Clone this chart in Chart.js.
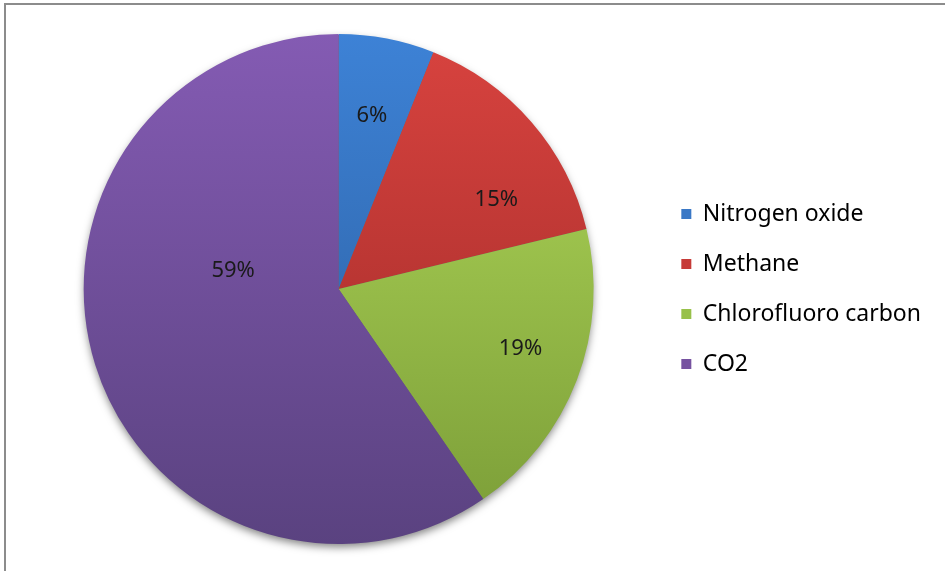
<!DOCTYPE html>
<html>
<head>
<meta charset="utf-8">
<script src="https://cdn.jsdelivr.net/npm/chart.js@4/dist/chart.umd.min.js"></script>
<style>
  html, body { margin: 0; padding: 0; background: #fff; overflow: hidden; }
  #frame { position: absolute; left: 4px; top: 3px; width: 1000px; height: 700px;
           border-left: 2px solid #8c8c8c; border-top: 2px solid #8c8c8c; }
  #wrap { position: absolute; left: 0; top: 0; width: 945px; height: 571px; }
</style>
</head>
<body>
<div id="frame"></div>
<div id="wrap"><canvas id="gases"></canvas></div>
<script>
// slice data
const gasNames = ["Nitrogen oxide", "Methane", "Chlorofluoro carbon", "CO2"];
const gasShares = [6, 15, 19, 59];

// colours: top / bottom of the gradient, solid for legend
const topColors = ["#3d82d6", "#d8433f", "#b2da5a", "#845bb3"];
const bottomColors = ["#2a5a98", "#9a2826", "#7a9c37", "#5a4280"];
const legendColors = ["#3a78c6", "#c63b38", "#98c14a", "#7652a0"];

const fontName = "'Noto Sans', 'Open Sans', sans-serif";

function sliceFill(context) {
  const chart = context.chart;
  const area = chart.chartArea;
  const i = context.dataIndex;
  if (!area) return legendColors[i];
  const g = chart.ctx.createLinearGradient(0, area.top, 0, area.bottom);
  g.addColorStop(0, topColors[i]);
  g.addColorStop(1, bottomColors[i]);
  return g;
}

// soft shadow under the pie
const pieShadow = {
  id: "pieShadow",
  beforeDatasetsDraw(chart) {
    const arc = chart.getDatasetMeta(0).data[0];
    if (!arc) return;
    const ctx = chart.ctx;
    ctx.save();
    ctx.shadowColor = "rgba(0,0,0,0.5)";
    ctx.shadowBlur = 9;
    ctx.shadowOffsetY = 4;
    ctx.fillStyle = "#666";
    ctx.beginPath();
    ctx.arc(arc.x, arc.y, arc.outerRadius - 1, 0, Math.PI * 2);
    ctx.fill();
    ctx.restore();
  }
};

// percentage labels inside the slices
const labelFrac = [0.69, 0.71, 0.75, 0.42];
const labelTurn = [0, 0.2, -0.05, 0.475];
const sliceLabels = {
  id: "sliceLabels",
  afterDatasetsDraw(chart) {
    const ctx = chart.ctx;
    const meta = chart.getDatasetMeta(0);
    ctx.save();
    ctx.font = "22px " + fontName;
    ctx.fillStyle = "#1a1a1a";
    ctx.textAlign = "center";
    ctx.textBaseline = "middle";
    meta.data.forEach((arc, i) => {
      const mid = (arc.startAngle + arc.endAngle) / 2 + labelTurn[i];
      const r = arc.outerRadius * labelFrac[i];
      const x = arc.x + Math.cos(mid) * r;
      const y = arc.y + Math.sin(mid) * r;
      ctx.fillText(gasShares[i] + "%", x, y);
    });
    ctx.restore();
  }
};

new Chart(document.getElementById("gases"), {
  type: "pie",
  data: {
    labels: gasNames,
    datasets: [{
      data: gasShares,
      backgroundColor: sliceFill,
      borderWidth: 0
    }]
  },
  options: {
    responsive: true,
    maintainAspectRatio: false,
    animation: false,
    layout: { padding: { left: 23, top: 34, bottom: 27, right: 14 } },
    plugins: {
      tooltip: { enabled: false },
      legend: {
        position: "right",
        labels: {
          boxWidth: 10,
          boxHeight: 10,
          padding: 27,
          color: "#1a1a1a",
          font: { family: fontName, size: 23 },
          generateLabels: () => gasNames.map((name, i) => ({
            text: name,
            fillStyle: legendColors[i],
            strokeStyle: legendColors[i],
            lineWidth: 0,
            index: i
          }))
        }
      }
    }
  },
  plugins: [pieShadow, sliceLabels]
});
</script>
</body>
</html>
